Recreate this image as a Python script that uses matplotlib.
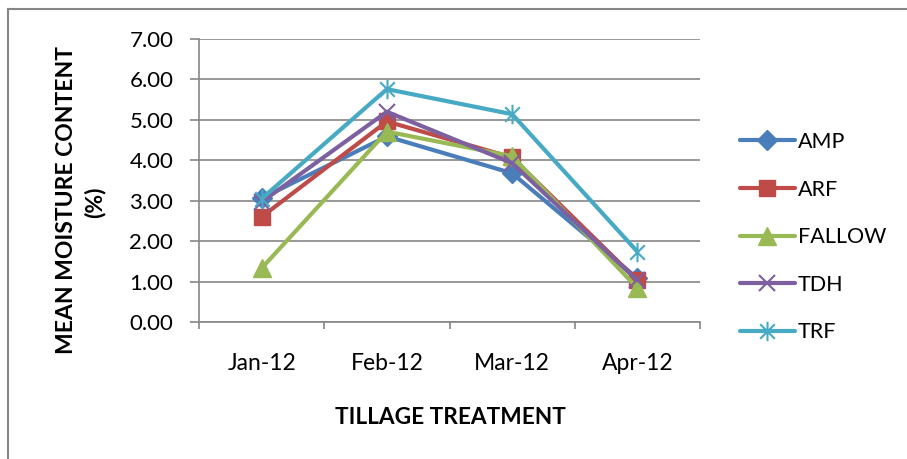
import matplotlib
matplotlib.use("Agg")
import matplotlib.pyplot as plt
from matplotlib.path import Path
from matplotlib.lines import Line2D

plt.rcParams['font.family'] = ['Lato', 'DejaVu Sans']

months = ["Jan-12", "Feb-12", "Mar-12", "Apr-12"]
series_names = ["AMP", "ARF", "FALLOW", "TDH", "TRF"]
amp = [3.06, 4.59, 3.68, 1.08]
arf = [2.60, 4.96, 4.07, 1.03]
fallow = [1.33, 4.71, 4.10, 0.84]
tdh = [2.97, 5.20, 3.93, 1.03]
trf = [3.05, 5.76, 5.14, 1.74]
yticks = [0, 1, 2, 3, 4, 5, 6, 7]

colors = ["#4A7EBB", "#BE4B48", "#98B954", "#7D60A0", "#46AAC5"]
star = Path([(0, -1), (0, 1), (-0.75, -0.75), (0.75, 0.75), (-0.75, 0.75), (0.75, -0.75)],
            [Path.MOVETO, Path.LINETO, Path.MOVETO, Path.LINETO, Path.MOVETO, Path.LINETO])
markers = ["D", "s", "^", "x", star]
msizes = [10, 12, 13, 12, 14]

fig = plt.figure(figsize=(9.07, 4.59), dpi=100)
ax = fig.add_axes([199 / 907, 1 - 322 / 459, 501 / 907, 283 / 459])

data = [amp, arf, fallow, tdh, trf]
x = list(range(len(months)))
for name, vals, c, m, ms in zip(series_names, data, colors, markers, msizes):
    ax.plot(x, vals, color=c, lw=3.0, marker=m, markersize=ms,
            markeredgewidth=1.5 if (m == "x" or m is star) else 1, markeredgecolor=c,
            markerfacecolor=c, label=name, solid_capstyle='round', solid_joinstyle='round')

ax.set_xlim(-0.5, 3.5)
ax.set_ylim(0, 7)
ax.set_yticks(yticks)
ax.set_yticklabels([f"{v:.2f}" for v in yticks], fontsize=16)
ax.set_xticks(x)
ax.set_xticklabels(months, fontsize=16.5)
ax.set_xticks([-0.5, 0.5, 1.5, 2.5, 3.5], minor=True)
ax.tick_params(axis='x', which='major', length=0, pad=22)
ax.tick_params(axis='x', which='minor', length=5, color='#868686', width=1.2)
ax.tick_params(axis='y', length=6.5, color='#868686', width=1.2, pad=12)
ax.grid(axis='y', color='#868686', lw=1.2)
ax.set_axisbelow(True)
for s in ['top', 'right']:
    ax.spines[s].set_visible(False)
for s in ['left', 'bottom']:
    ax.spines[s].set_color('#868686')
    ax.spines[s].set_linewidth(1.2)

fig.text(67 / 907, 1 - 200 / 459, "MEAN MOISTURE CONTENT", rotation=90, ha='center', va='center',
         fontsize=16.5, fontweight='bold')
fig.text(95 / 907, 1 - 202 / 459, "(%)", rotation=90, ha='center', va='center',
         fontsize=16.5, fontweight='bold')
fig.text(450 / 907, 1 - 417 / 459, "TILLAGE TREATMENT", ha='center', va='center',
         fontsize=16.3, fontweight='bold')

leg = ax.legend(loc='upper left', bbox_to_anchor=(740 / 907, 1 - 132 / 459), bbox_transform=fig.transFigure,
                frameon=False, fontsize=15.5, handlelength=2.55, labelspacing=1.28, handletextpad=0.15,
                borderaxespad=0, borderpad=0)

fig.add_artist(Line2D([8 / 907, 8 / 907], [0, 1 - 9 / 459], transform=fig.transFigure,
                      color='#868686', lw=1.5))
fig.add_artist(Line2D([8 / 907, 1], [1 - 9 / 459, 1 - 9 / 459], transform=fig.transFigure,
                      color='#868686', lw=1.5))
fig.savefig("out.png", dpi=100)
